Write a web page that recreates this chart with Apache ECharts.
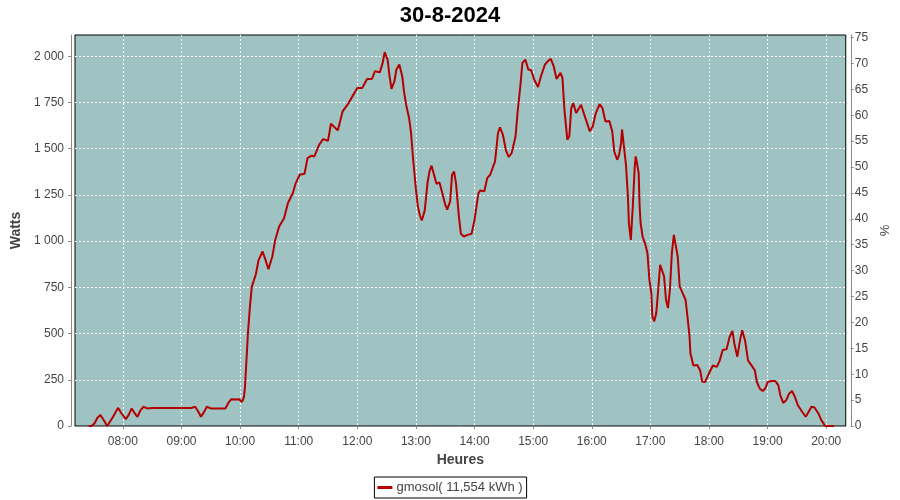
<!DOCTYPE html>
<html><head><meta charset="utf-8">
<script src="https://cdn.jsdelivr.net/npm/echarts@6/dist/echarts.min.js"></script>
<style>html,body{margin:0;padding:0;background:#fff}#c{width:900px;height:500px}</style>
</head><body><div id="c"></div>
<script>
const titleText = '30-8-2024';
const seriesName = 'gmosol( 11,554 kWh )';
const xStart = '07:11';
const xEnd = '20:20';
const xTicks = ['08:00','09:00','10:00','11:00','12:00','13:00','14:00','15:00','16:00','17:00','18:00','19:00','20:00'];
const wattTicks = [0,250,500,750,1000,1250,1500,1750,2000];
const pctTicks = [0,5,10,15,20,25,30,35,40,45,50,55,60,65,70,75];
const wattMax = 2115;
const pctMax = 75.5;
const times = [
'07:25','07:28','07:31','07:34','07:37','07:40','07:44','07:46','07:50','07:55','07:59',
'08:03','08:06','08:09','08:12','08:15','08:18','08:21','08:25','08:30','08:40','08:50','09:00','09:10',
'09:14','09:17','09:20','09:23','09:26','09:30','09:40','09:45','09:48','09:51','09:55','09:59',
'10:02','10:04','10:05','10:07','10:08','10:10','10:12','10:16','10:19','10:23','10:26','10:29','10:33','10:36','10:40','10:45','10:49','10:54','10:57',
'11:01','11:06','11:09','11:13','11:16','11:21','11:25','11:30','11:33','11:35','11:40','11:45','11:50','11:55',
'12:00','12:05','12:10','12:15','12:18','12:23','12:26','12:28','12:31','12:33','12:35','12:38','12:40','12:43','12:46','12:48','12:50','12:53','12:55','12:57',
'13:00','13:02','13:04','13:06','13:09','13:12','13:14','13:16','13:19','13:21','13:24','13:27','13:30','13:32','13:35','13:37','13:39','13:41','13:44','13:46','13:49','13:53','13:57',
'14:00','14:04','14:06','14:10','14:13','14:16','14:18','14:21','14:24','14:26','14:29','14:32','14:35','14:38','14:42','14:44','14:47','14:49','14:52','14:55','14:58',
'15:01','15:05','15:08','15:12','15:15','15:18','15:21','15:24','15:28','15:30','15:32','15:35','15:37','15:39','15:41','15:44','15:49','15:54','15:58',
'16:01','16:04','16:08','16:11','16:14','16:18','16:21','16:23','16:26','16:28','16:30','16:31','16:33','16:35','16:37','16:38','16:40','16:42','16:44','16:45','16:46','16:48','16:49','16:50','16:52','16:55','16:57','16:59',
'17:01','17:02','17:04','17:06','17:08','17:10','17:12','17:14','17:16','17:18','17:20','17:22','17:24','17:26','17:28','17:30','17:33','17:36','17:38','17:40','17:41','17:44','17:46','17:48','17:51','17:53','17:56',
'18:00','18:04','18:08','18:11','18:14','18:18','18:21','18:24','18:26','18:29','18:32','18:34','18:37','18:40','18:43','18:47','18:49','18:52','18:55','18:58',
'19:00','19:04','19:08','19:11','19:13','19:16','19:19','19:22','19:25','19:28','19:31','19:35','19:39','19:42','19:45','19:48','19:52','19:55','19:59','20:08'
];
const watts = [
0,0,15,45,59,35,0,5,50,98,65,
37,60,95,70,50,85,104,95,97,97,97,97,97,
104,80,50,75,104,95,95,95,125,145,143,145,
130,157,213,400,500,640,754,818,899,944,899,848,917,1007,1079,1124,1206,1260,1314,
1359,1365,1449,1462,1458,1522,1552,1543,1635,1643,1599,1702,1738,1783,
1828,1828,1877,1877,1919,1913,1964,2022,1982,1892,1823,1865,1928,1955,1892,1801,1738,1665,1585,1450,
1280,1188,1140,1112,1165,1320,1380,1408,1350,1310,1318,1260,1197,1170,1215,1359,1377,1314,1133,1040,1025,1034,1040,
1115,1260,1274,1269,1341,1359,1350,1431,1585,1615,1576,1494,1455,1476,1567,1693,1846,1964,1982,1928,1924,
1874,1834,1892,1955,1973,1986,1946,1877,1910,1883,1711,1549,1567,1720,1747,1693,1738,1657,1594,
1620,1690,1741,1719,1647,1650,1593,1485,1440,1467,1530,1604,1600,1413,1242,1098,1007,1188,1404,1458,1431,1368,1188,1098,1025,980,935,791,
719,593,566,611,737,872,881,809,683,638,737,935,1034,1025,917,755,719,683,590,490,394,327,318,330,300,240,238,
285,327,320,354,411,415,480,515,445,375,470,518,460,354,332,300,238,202,189,207,
238,243,243,220,166,125,139,175,189,157,112,80,50,77,104,100,68,32,0,0
];

function toMin(t){const p=t.split(':');return (+p[0])*60+(+p[1]);}
function fmtTime(v){const h=Math.floor(v/60),m=Math.round(v%60);return (h<10?'0':'')+h+':'+(m<10?'0':'')+m;}
function fmtNum(v){return String(v).replace(/\B(?=(\d{3})+(?!\d))/g,' ');}

const data = times.map((t,i)=>[toMin(t),watts[i]]);
const tickFont = {fontFamily:'Liberation Sans',fontSize:12,color:'#444'};
const nameFont = {fontFamily:'Liberation Sans',fontSize:14,fontWeight:'bold',color:'#444'};
const gridLine = {show:true,lineStyle:{color:'#ffffff',type:[2,2],width:1}};

const chart = echarts.init(document.getElementById('c'),null,{renderer:'canvas'});
chart.setOption({
  animation:false,
  backgroundColor:'#ffffff',
  title:{text:titleText,left:'center',top:0,textStyle:{fontFamily:'Liberation Sans',fontSize:22,fontWeight:'bold',color:'#000'}},
  legend:{
    data:[seriesName],top:477,left:'center',
    icon:'rect',itemWidth:15,itemHeight:3,itemGap:5,
    borderColor:'#000',borderWidth:1,padding:[4,4,4,3],backgroundColor:'#fff',
    textStyle:{fontFamily:'Liberation Sans',fontSize:13,color:'#444',padding:[0,0,0,-1]}
  },
  grid:{left:75,top:35,width:771,height:391,show:true,backgroundColor:'#9FC3C2',borderColor:'#000',borderWidth:1},
  xAxis:{
    type:'value',min:toMin(xStart),max:toMin(xEnd),offset:4,
    name:'Heures',nameLocation:'middle',nameGap:22,nameTextStyle:nameFont,
    axisLine:{show:true,lineStyle:{color:'#888',width:1}},
    axisTick:{show:true,length:3,lineStyle:{color:'#888'},customValues:xTicks.map(toMin)},
    axisLabel:Object.assign({margin:6,formatter:fmtTime,customValues:xTicks.map(toMin)},tickFont),
    splitLine:gridLine
  },
  yAxis:[{
    type:'value',min:0,max:wattMax,position:'left',offset:4,
    name:'Watts',nameLocation:'middle',nameGap:43,nameRotate:90,nameTextStyle:nameFont,
    axisLine:{show:true,lineStyle:{color:'#888',width:1}},
    axisTick:{show:true,length:3,lineStyle:{color:'#888'},customValues:wattTicks},
    axisLabel:Object.assign({margin:7,formatter:fmtNum,customValues:wattTicks},tickFont),
    splitLine:gridLine
  },{
    type:'value',min:0,max:pctMax,position:'right',offset:5,
    name:'%',nameLocation:'middle',nameGap:24,nameRotate:90,nameTextStyle:Object.assign({},nameFont,{fontWeight:'normal',fontSize:13}),
    axisLine:{show:true,lineStyle:{color:'#888',width:1}},
    axisTick:{show:true,length:3,lineStyle:{color:'#888'},customValues:pctTicks},
    axisLabel:Object.assign({margin:4,customValues:pctTicks},tickFont),
    splitLine:{show:false}
  }],
  series:[{
    name:seriesName,type:'line',xAxisIndex:0,yAxisIndex:0,data:data,
    showSymbol:false,smooth:false,
    lineStyle:{color:'#B40000',width:2},itemStyle:{color:'#B40000'}
  }]
});
</script>
</body></html>
